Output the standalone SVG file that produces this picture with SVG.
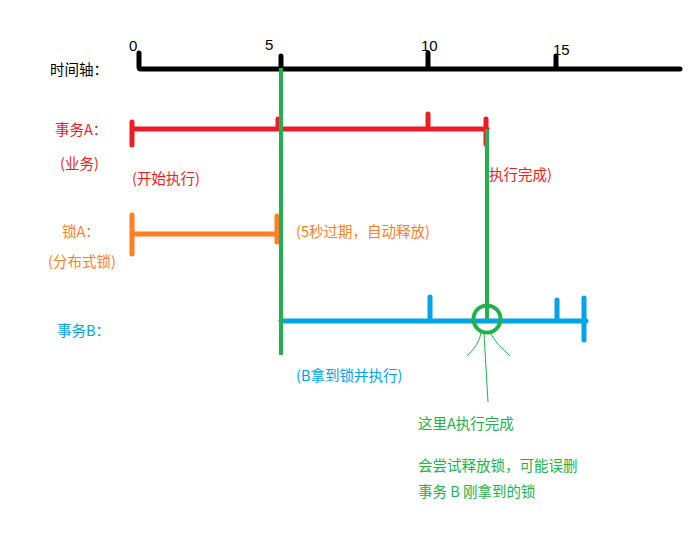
<svg xmlns="http://www.w3.org/2000/svg" width="690" height="548" viewBox="0 0 690 548">
<style>
text{font-family:"Noto Sans CJK SC","Microsoft YaHei",sans-serif;font-size:14.5px}
.n{font-family:"Liberation Sans",sans-serif;font-size:15px}
.k{fill:#000}.r{fill:#ed1c24}.o{fill:#ff7f27}.b{fill:#00a2e8}.g{fill:#22b14c}
.ax{stroke:#000;stroke-width:5;stroke-linecap:round;fill:none}
.ra{stroke:#ed1c24;stroke-width:5;stroke-linecap:round;fill:none}
.oa{stroke:#ff7f27;stroke-width:5;stroke-linecap:round;fill:none}
.ba{stroke:#00a2e8;stroke-width:5;stroke-linecap:round;fill:none}
.ga{stroke:#22b14c;stroke-width:4;fill:none}
.gt{stroke:#22b14c;stroke-width:1;fill:none}
</style>
<rect width="690" height="548" fill="#fff"/>
<g id="timeline">
<path class="ax" d="M139 53V67Q139 69 141 69H680M281 56V68M428 53V68M556 56V68"/>
<text class="k" x="50" y="75">时间轴：</text>
<text class="k n" x="129" y="51">0</text>
<text class="k n" x="265" y="50">5</text>
<text class="k n" x="421" y="51">10</text>
<text class="k n" x="553" y="55">15</text>
</g>
<g id="txA">
<path class="ra" d="M132 122V145M132 129H487M278 119V129M428 114V129M486 119V144"/>
<text class="r" x="55" y="135">事务A：</text>
<text class="r" x="60" y="169">(业务)</text>
<text class="r" x="132" y="184">(开始执行)</text>
<text class="r" x="484" y="180">(执行完成)</text>
</g>
<g id="lockA">
<path class="oa" d="M132 215V254M132 234H277M277 216V242"/>
<text class="o" x="62" y="237">锁A：</text>
<text class="o" x="48" y="267">(分布式锁)</text>
<text class="o" x="296" y="237">(5秒过期，自动释放)</text>
</g>
<g id="txB">
<path class="ba" d="M281 321H586M430 297V321M557 300V321M584 298V340"/>
<text class="b" x="57" y="336">事务B：</text>
<text class="b" x="296" y="381">(B拿到锁并执行)</text>
</g>
<g id="connectors">
<path class="ga" d="M281 68V355M487 129V320"/>
<circle class="ga" cx="487" cy="319" r="13.5"/>
<path class="gt" d="M481 333Q479 345 467 356M484 334L486 368L488 402M490 333Q497 345 510 356"/>
</g>
<g id="note">
<text class="g" x="418" y="429">这里A执行完成</text>
<text class="g" x="418" y="471">会尝试释放锁，可能误删</text>
<text class="g" x="418" y="497">事务 B 刚拿到的锁</text>
</g>
</svg>
